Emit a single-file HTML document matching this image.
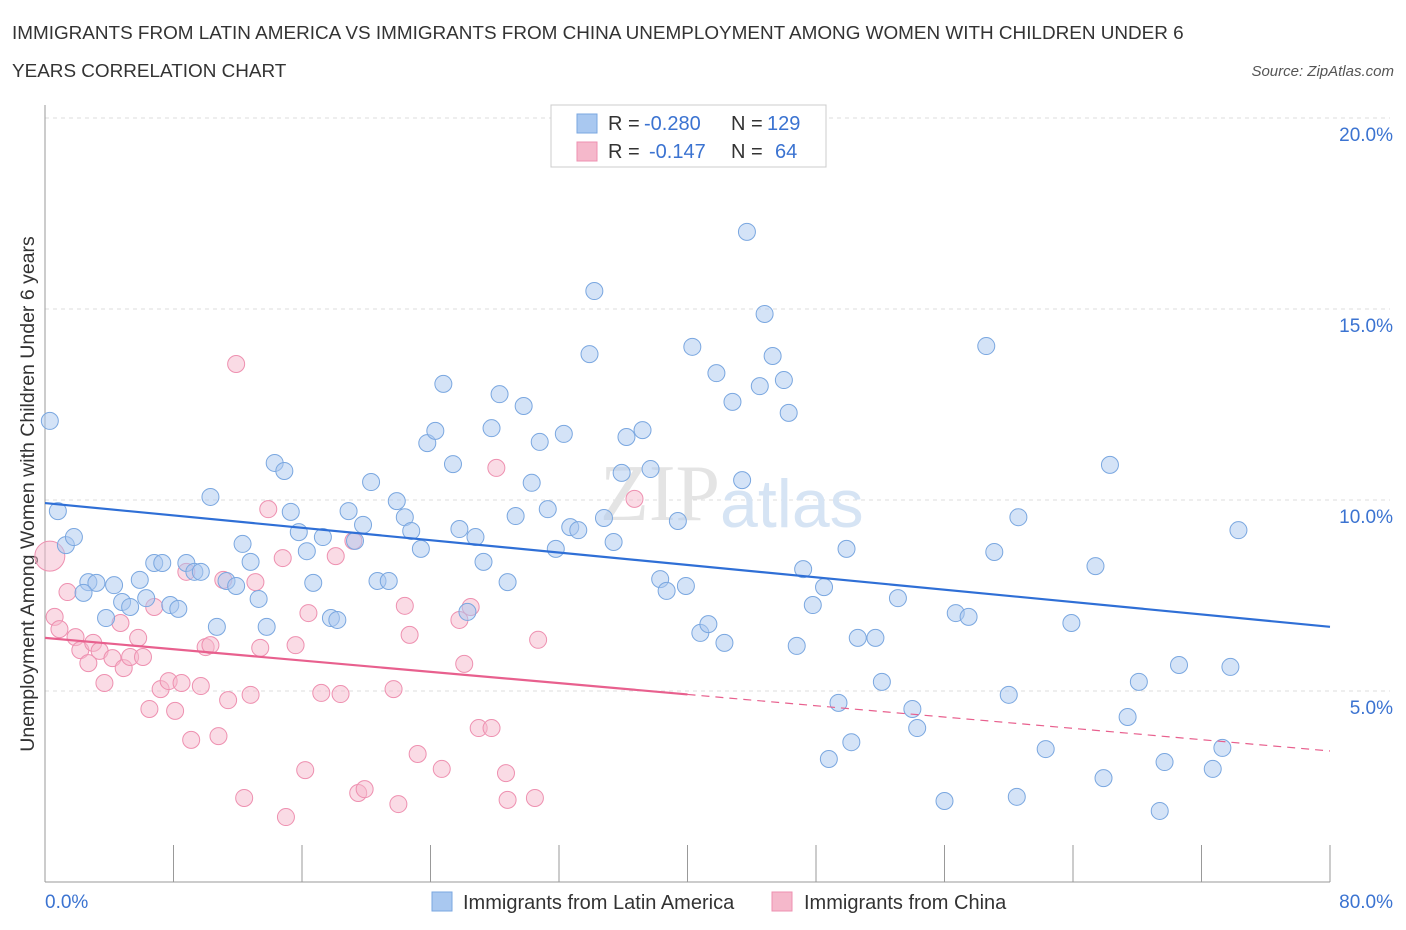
<!DOCTYPE html>
<html><head><meta charset="utf-8"><style>
body{margin:0;background:#fff;font-family:"Liberation Sans",sans-serif;}
svg{display:block}
</style></head><body>
<svg id="chart" width="1406" height="930">
<text x="12" y="39" font-size="18.9" fill="#333">IMMIGRANTS FROM LATIN AMERICA VS IMMIGRANTS FROM CHINA UNEMPLOYMENT AMONG WOMEN WITH CHILDREN UNDER 6</text>
<text x="12" y="77" font-size="18.9" fill="#333">YEARS CORRELATION CHART</text>
<text x="1394" y="76" font-size="15" fill="#555" font-style="italic" text-anchor="end">Source: ZipAtlas.com</text>
<text x="34" y="494" font-size="19.5" fill="#333" text-anchor="middle" transform="rotate(-90 34 494)">Unemployment Among Women with Children Under 6 years</text>
<g id="grid"></g>
<text x="720" y="520" font-size="80" fill="#e4e4e4" text-anchor="end" font-family="Liberation Serif">ZIP</text>
<text x="720" y="527" font-size="68" fill="#d6e4f4">atlas</text>
<g id="marks"></g>
<g>
<rect x="551" y="105" width="275" height="62" fill="#fff" stroke="#ccc"/>
<rect x="577" y="114" width="20" height="19" fill="#a9c8f0" stroke="#7aa7e0"/>
<rect x="577" y="142" width="20" height="19" fill="#f5b8cb" stroke="#ee90b0"/>
<text x="608" y="130" font-size="20" fill="#333">R =</text>
<text x="644" y="130" font-size="20" fill="#3b73d1">-0.280</text>
<text x="731" y="130" font-size="20" fill="#333">N =</text>
<text x="767" y="130" font-size="20" fill="#3b73d1">129</text>
<text x="608" y="158" font-size="20" fill="#333">R =</text>
<text x="649" y="158" font-size="20" fill="#3b73d1">-0.147</text>
<text x="731" y="158" font-size="20" fill="#333">N =</text>
<text x="775" y="158" font-size="20" fill="#3b73d1">64</text>
</g>
<g>
<rect x="432" y="892" width="20" height="19" fill="#a9c8f0" stroke="#7aa7e0"/>
<text x="463" y="909" font-size="20" fill="#333">Immigrants from Latin America</text>
<rect x="772" y="892" width="20" height="19" fill="#f5b8cb" stroke="#ee90b0"/>
<text x="804" y="909" font-size="20" fill="#333">Immigrants from China</text>
</g>
</svg>
<script>
const yTicks=[5,10,15,20];
const xTickLabels=["0.0%","80.0%"];
const blueX=[0.3,0.8,1.3,1.8,2.7,3.2,2.4,3.8,4.3,4.8,5.3,5.9,6.3,6.8,7.3,7.8,8.3,8.8,9.3,9.7,10.3,10.7,11.3,11.9,12.3,12.8,13.3,13.8,14.3,14.9,15.3,15.8,16.3,16.7,17.3,17.8,18.2,18.9,19.3,19.8,20.3,20.7,21.4,21.9,22.4,22.8,23.4,23.8,24.3,24.8,25.4,25.8,26.3,26.8,27.3,27.8,28.3,28.8,29.3,29.8,30.3,30.8,31.3,31.8,32.3,32.7,33.2,33.9,34.2,34.8,35.4,35.9,36.2,37.2,37.7,38.3,38.7,39.4,39.9,40.3,40.8,41.3,41.8,42.3,42.8,43.4,43.7,44.5,44.8,45.3,46.0,46.3,46.8,47.2,47.8,48.5,48.8,49.4,49.9,50.2,50.6,51.7,52.1,53.1,54.0,54.3,56.0,56.7,57.5,58.6,59.1,60.0,60.5,60.6,62.3,63.9,65.4,65.9,66.3,67.4,68.1,69.7,69.4,70.6,72.7,73.3,73.8,74.3];
const blueY=[12.07,9.71,8.82,9.03,7.85,7.83,7.57,6.91,7.77,7.33,7.20,7.91,7.43,8.35,8.35,7.25,7.15,8.35,8.12,8.12,10.08,6.68,7.88,7.75,8.85,8.38,7.41,6.68,10.97,10.76,9.69,9.16,8.66,7.83,9.03,6.91,6.86,9.71,8.93,9.35,10.47,7.88,7.88,9.97,9.55,9.19,8.72,11.49,11.81,13.04,10.94,9.24,7.07,9.03,8.38,11.88,12.77,7.85,9.58,12.46,10.45,11.52,9.76,8.72,11.73,9.29,9.21,13.82,15.47,9.53,8.90,10.71,11.65,11.83,10.81,7.93,7.62,9.45,7.75,14.01,6.52,6.75,13.32,6.26,12.57,10.52,17.02,12.98,14.87,13.77,13.14,12.28,6.18,8.19,7.25,7.72,3.22,4.69,8.72,3.66,6.39,6.39,5.24,7.43,4.53,4.03,2.12,7.04,6.94,14.03,8.64,4.90,2.23,9.55,3.48,6.78,8.27,2.72,10.92,4.32,5.24,3.14,1.86,5.68,2.96,3.51,5.63,9.21];
const pinkX=[0.3,0.6,0.9,1.4,1.9,2.2,2.7,3.0,3.4,3.7,4.2,4.7,4.9,5.3,5.8,6.1,6.5,6.8,7.2,7.7,8.1,8.5,8.8,9.1,9.7,10.0,10.3,10.8,11.1,11.4,11.9,12.4,12.8,13.1,13.4,13.9,14.8,15.0,15.6,16.2,16.4,17.2,18.1,18.4,19.2,19.5,19.9,21.7,22.0,22.4,22.7,23.2,24.7,26.1,26.5,27.0,27.8,28.1,28.7,28.8,30.5,30.7,36.7,25.8];
const pinkY=[8.53,6.94,6.62,7.59,6.41,6.07,5.73,6.26,6.05,5.21,5.86,6.78,5.60,5.89,6.39,5.89,4.53,7.20,5.05,5.26,4.48,5.21,8.12,3.72,5.13,6.15,6.20,3.82,7.91,4.76,13.56,2.20,4.90,7.85,6.13,9.76,8.48,1.70,6.20,2.93,7.04,4.95,8.53,4.92,8.93,2.33,2.43,5.05,2.04,7.23,6.47,3.35,2.96,5.71,7.20,4.03,4.03,10.84,2.85,2.15,2.20,6.34,10.03,6.86];
const blueTrend=[9.92,6.68];
const pinkTrend=[6.39,3.43];
const NS="http://www.w3.org/2000/svg";
const X0=45,X1=1330,Y0=882,PY=38.2;
const sx=v=>X0+v/80*(X1-X0);
const sy=v=>Y0-v*PY;
function mk(t,a,p){const e=document.createElementNS(NS,t);for(const k in a)e.setAttribute(k,a[k]);p.appendChild(e);return e;}
const grid=document.getElementById('grid'),marks=document.getElementById('marks');
yTicks.forEach(t=>{
 const l=mk('line',{x1:45,x2:1390,y1:sy(t),y2:sy(t),stroke:'#ddd','stroke-dasharray':'4,4'},grid);
 
 
 const tx=mk('text',{x:1393,y:sy(t)+23,'font-size':19,fill:'#3b73d1','text-anchor':'end'},grid);
 tx.textContent=t.toFixed(1)+'%';
 
 
});
let a=mk('line',{x1:45,x2:45,y1:105,y2:882,stroke:'#999'},grid);


a=mk('line',{x1:45,x2:1330,y1:882,y2:882,stroke:'#999'},grid);


for(let i=0;i<=10;i++){
 const t=mk('line',{x1:sx(i*8),x2:sx(i*8),y1:845,y2:882,stroke:'#999'},grid);
 
 
}
let xl=mk('text',{x:45,y:908,'font-size':19,fill:'#3b73d1'},grid);xl.textContent=xTickLabels[0];


xl=mk('text',{x:1393,y:908,'font-size':19,fill:'#3b73d1','text-anchor':'end'},grid);xl.textContent=xTickLabels[1];


pinkX.forEach((x,i)=>{
 const c=mk('circle',{cx:sx(x),cy:sy(pinkY[i]),r:i===0?15:8.5,fill:'#f5b8cb','fill-opacity':0.5,stroke:'#ee90b0','stroke-width':1},marks);
 
 
});
blueX.forEach((x,i)=>{
 const c=mk('circle',{cx:sx(x),cy:sy(blueY[i]),r:8.5,fill:'#a9c8f0','fill-opacity':0.5,stroke:'#7aa7e0','stroke-width':1},marks);
 
 
});
let tl=mk('line',{x1:sx(0),y1:sy(blueTrend[0]),x2:sx(80),y2:sy(blueTrend[1]),stroke:'#2f6fd6','stroke-width':2.2},marks);


const pm=pinkTrend[0]+(pinkTrend[1]-pinkTrend[0])*40/80;
tl=mk('line',{x1:sx(0),y1:sy(pinkTrend[0]),x2:sx(40),y2:sy(pm),stroke:'#e8608e','stroke-width':2.2},marks);


tl=mk('line',{x1:sx(40),y1:sy(pm),x2:sx(80),y2:sy(pinkTrend[1]),stroke:'#e8608e','stroke-width':1.2,'stroke-dasharray':'8,6'},marks);


</script>
</body></html>
